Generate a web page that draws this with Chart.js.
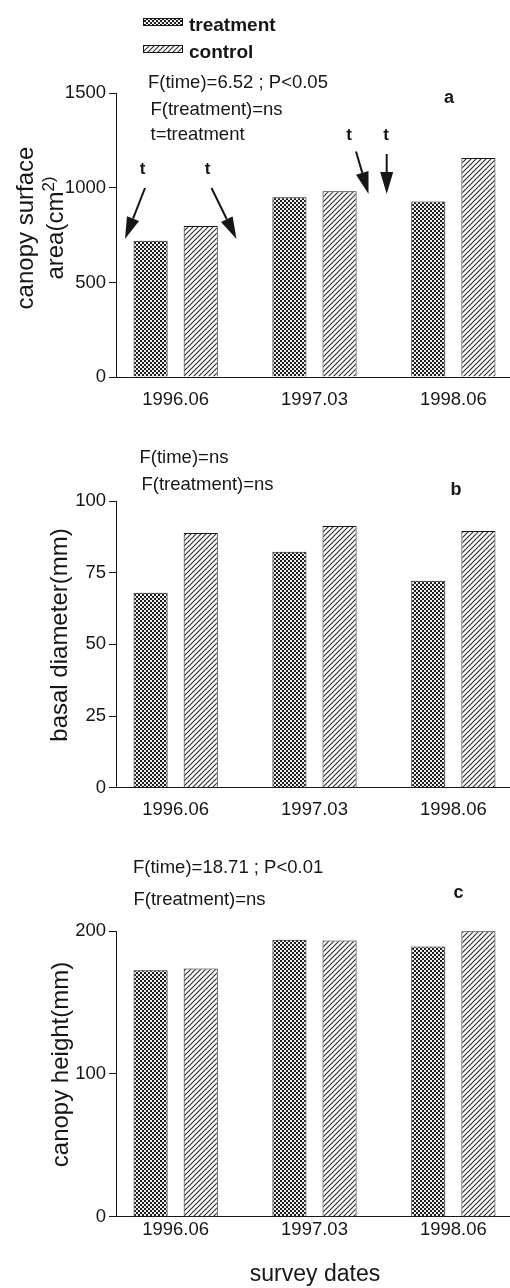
<!DOCTYPE html>
<html>
<head>
<meta charset="utf-8">
<script src="https://cdn.jsdelivr.net/npm/chart.js@4.4.1/dist/chart.umd.min.js"></script>
<style>
  html, body { margin: 0; padding: 0; background: #fff; width: 510px; height: 1288px; overflow: hidden; }
  .panel { position: absolute; left: 0; width: 510px; }
  canvas { display: block; }
</style>
</head>
<body>
<div class="panel" id="panelA" style="top:0;height:420px"><canvas id="chartA"></canvas></div>
<div class="panel" id="panelB" style="top:420px;height:420px"><canvas id="chartB"></canvas></div>
<div class="panel" id="panelC" style="top:840px;height:448px"><canvas id="chartC"></canvas></div>
<script>
// Survey dates shared by all three panels
const surveyDates = ['1996.06', '1997.03', '1998.06'];

// (a) canopy surface area, cm²
const areaTreatment = [721, 951, 928];
const areaControl   = [799, 982, 1158];
const areaTicks     = [0, 500, 1000, 1500];

// (b) basal diameter, mm
const diameterTreatment = [68.0, 82.3, 72.2];
const diameterControl   = [88.8, 91.3, 89.5];
const diameterTicks     = [0, 25, 50, 75, 100];

// (c) canopy height, mm
const heightTreatment = [172.5, 193.8, 189.1];
const heightControl   = [173.7, 193.3, 199.9];
const heightTicks     = [0, 100, 200];

const FONT = "'Liberation Sans', Arial, Helvetica, sans-serif";
const INK = '#161616';
Chart.defaults.font.family = FONT;
Chart.defaults.color = INK;

// Fill patterns: small checkerboard for treatment, diagonal hatching for control
function checkerPattern() {
  const c = document.createElement('canvas');
  c.width = 4; c.height = 4;
  const g = c.getContext('2d');
  g.fillStyle = '#eeeeee'; g.fillRect(0, 0, 4, 4);
  g.fillStyle = '#1e1e1e';
  g.fillRect(0, 0, 2, 2); g.fillRect(2, 2, 2, 2);
  return g.createPattern(c, 'repeat');
}
function hatchPattern() {
  const s = 5;
  const c = document.createElement('canvas');
  c.width = s; c.height = s;
  const g = c.getContext('2d');
  g.fillStyle = '#ffffff'; g.fillRect(0, 0, s, s);
  g.strokeStyle = '#2a2a2a'; g.lineWidth = 1.1;
  g.beginPath();
  g.moveTo(-1, s + 1); g.lineTo(s + 1, -1);
  g.moveTo(-1, 1); g.lineTo(1, -1);
  g.moveTo(s - 1, s + 1); g.lineTo(s + 1, s - 1);
  g.stroke();
  return g.createPattern(c, 'repeat');
}
const fills = { treatment: checkerPattern(), control: hatchPattern() };

// Draws the panel's annotations, legend, arrows and axis titles
const notesPlugin = {
  id: 'panelNotes',
  afterDraw(chart, args, opts) {
    const ctx = chart.ctx;
    const dy = opts.top || 0;
    ctx.save();
    for (const it of (opts.items || [])) {
      ctx.fillStyle = INK;
      ctx.strokeStyle = INK;
      if (it.type === 'text') {
        ctx.font = it.font;
        ctx.textAlign = it.align || 'left';
        ctx.textBaseline = 'alphabetic';
        ctx.fillText(it.text, it.x, it.y - dy);
      } else if (it.type === 'swatch') {
        ctx.fillStyle = fills[it.fill];
        ctx.fillRect(it.x, it.y - dy, it.w, it.h);
        ctx.lineWidth = 1;
        ctx.strokeRect(it.x + 0.5, it.y - dy + 0.5, it.w - 1, it.h - 1);
      } else if (it.type === 'arrow') {
        const x1 = it.x1, y1 = it.y1 - dy, x2 = it.x2, y2 = it.y2 - dy;
        const ang = Math.atan2(y2 - y1, x2 - x1);
        const hl = 22, hw = 6.5;
        const bx = x2 - hl * Math.cos(ang), by = y2 - hl * Math.sin(ang);
        ctx.lineWidth = 2;
        ctx.beginPath(); ctx.moveTo(x1, y1); ctx.lineTo(bx, by); ctx.stroke();
        ctx.beginPath();
        ctx.moveTo(x2, y2);
        ctx.lineTo(bx + hw * Math.sin(ang), by - hw * Math.cos(ang));
        ctx.lineTo(bx - hw * Math.sin(ang), by + hw * Math.cos(ang));
        ctx.closePath(); ctx.fill();
      } else if (it.type === 'vtext') {
        ctx.save();
        ctx.translate(it.x, it.y - dy);
        ctx.rotate(-Math.PI / 2);
        ctx.textBaseline = 'alphabetic';
        ctx.font = it.font;
        const w1 = ctx.measureText(it.text).width;
        let w2 = 0;
        if (it.sup) { ctx.font = it.supFont; w2 = ctx.measureText(it.sup).width; }
        const start = -(w1 + w2) / 2;
        ctx.textAlign = 'left';
        ctx.font = it.font;
        ctx.fillText(it.text, start, 0);
        if (it.sup) { ctx.font = it.supFont; ctx.fillText(it.sup, start + w1, -it.supRise); }
        ctx.restore();
      }
    }
    ctx.restore();
  }
};

// One bar panel: x is a linear index axis so the group spacing follows the drawn layout
function makePanel(id, cfg) {
  const toPoints = arr => arr.map((v, i) => ({ x: i, y: v }));
  const barStyle = { borderColor: INK, borderWidth: 1, barPercentage: 0.68, categoryPercentage: 0.722 };
  return new Chart(document.getElementById(id), {
    type: 'bar',
    data: {
      datasets: [
        Object.assign({ label: 'treatment', data: toPoints(cfg.treatment), backgroundColor: fills.treatment }, barStyle),
        Object.assign({ label: 'control', data: toPoints(cfg.control), backgroundColor: fills.control }, barStyle)
      ]
    },
    options: {
      responsive: true,
      maintainAspectRatio: false,
      animation: false,
      layout: { padding: { top: cfg.areaTop - cfg.top, left: 0, right: 0, bottom: 0 } },
      plugins: {
        legend: { display: false },
        tooltip: { enabled: false },
        panelNotes: { top: cfg.top, items: cfg.items }
      },
      scales: {
        x: {
          type: 'linear',
          offset: false,
          min: -0.4296,
          max: 2.408,
          afterBuildTicks: s => { s.ticks = surveyDates.map((d, i) => ({ value: i })); },
          afterFit: s => { s.height = cfg.top + cfg.height - cfg.areaBottom; },
          ticks: {
            callback: v => surveyDates[v],
            font: { size: 18.5 },
            color: INK,
            padding: cfg.xPad,
            maxRotation: 0,
            autoSkip: false
          },
          grid: { display: false, drawTicks: false, offset: false },
          border: { display: true, color: INK, width: 1 }
        },
        y: {
          min: cfg.yTicks[0],
          max: cfg.yTicks[cfg.yTicks.length - 1],
          afterBuildTicks: s => { s.ticks = cfg.yTicks.map(v => ({ value: v })); },
          afterFit: s => { s.width = 116; },
          ticks: { font: { size: 18.5 }, color: INK, padding: 3, callback: v => String(v) },
          grid: { drawOnChartArea: false, drawTicks: true, tickLength: 7, color: INK, lineWidth: 1 },
          border: { display: true, color: INK, width: 1 }
        }
      }
    },
    plugins: [notesPlugin]
  });
}

const noteFont = '18.5px ' + FONT;
const tagFont = 'bold 18px ' + FONT;
const titleFont = '24px ' + FONT;

makePanel('chartA', {
  top: 0, height: 420, areaTop: 93.3, areaBottom: 377, xPad: 12,
  treatment: areaTreatment, control: areaControl, yTicks: areaTicks,
  items: [
    { type: 'swatch', fill: 'treatment', x: 143, y: 18, w: 40, h: 8 },
    { type: 'text', text: 'treatment', x: 189, y: 31, font: 'bold 19px ' + FONT },
    { type: 'swatch', fill: 'control', x: 143, y: 45, w: 40, h: 8 },
    { type: 'text', text: 'control', x: 189, y: 58, font: 'bold 19px ' + FONT },
    { type: 'text', text: 'F(time)=6.52 ; P<0.05', x: 148, y: 87.5, font: noteFont },
    { type: 'text', text: 'F(treatment)=ns', x: 150.5, y: 114.5, font: noteFont },
    { type: 'text', text: 't=treatment', x: 150.5, y: 139.5, font: noteFont },
    { type: 'text', text: 'a', x: 449, y: 103, font: tagFont, align: 'center' },
    { type: 'text', text: 't', x: 142.5, y: 174, font: 'bold 17px ' + FONT, align: 'center' },
    { type: 'text', text: 't', x: 207.5, y: 174, font: 'bold 17px ' + FONT, align: 'center' },
    { type: 'text', text: 't', x: 349, y: 140, font: 'bold 17px ' + FONT, align: 'center' },
    { type: 'text', text: 't', x: 386, y: 140, font: 'bold 17px ' + FONT, align: 'center' },
    { type: 'arrow', x1: 145, y1: 188, x2: 125, y2: 239 },
    { type: 'arrow', x1: 211.5, y1: 188, x2: 236.5, y2: 239 },
    { type: 'arrow', x1: 356, y1: 151.5, x2: 368.5, y2: 194 },
    { type: 'arrow', x1: 386.7, y1: 154, x2: 386.7, y2: 194 },
    { type: 'vtext', text: 'canopy surface', x: 33, y: 228, font: titleFont },
    { type: 'vtext', text: 'area(cm', sup: '2)', x: 63, y: 228, font: titleFont, supFont: '17px ' + FONT, supRise: 9 }
  ]
});

makePanel('chartB', {
  top: 420, height: 420, areaTop: 501, areaBottom: 787.7, xPad: 11.5,
  treatment: diameterTreatment, control: diameterControl, yTicks: diameterTicks,
  items: [
    { type: 'text', text: 'F(time)=ns', x: 139.5, y: 462.5, font: noteFont },
    { type: 'text', text: 'F(treatment)=ns', x: 141.5, y: 489.5, font: noteFont },
    { type: 'text', text: 'b', x: 456, y: 494.5, font: tagFont, align: 'center' },
    { type: 'vtext', text: 'basal diameter(mm)', x: 67, y: 635, font: titleFont }
  ]
});

makePanel('chartC', {
  top: 840, height: 448, areaTop: 931, areaBottom: 1216.7, xPad: 2.5,
  treatment: heightTreatment, control: heightControl, yTicks: heightTicks,
  items: [
    { type: 'text', text: 'F(time)=18.71 ; P<0.01', x: 133, y: 873, font: noteFont },
    { type: 'text', text: 'F(treatment)=ns', x: 133.5, y: 904.5, font: noteFont },
    { type: 'text', text: 'c', x: 458.5, y: 898, font: tagFont, align: 'center' },
    { type: 'vtext', text: 'canopy height(mm)', x: 68, y: 1064.5, font: titleFont },
    { type: 'text', text: 'survey dates', x: 315, y: 1281, font: '23px ' + FONT, align: 'center' }
  ]
});
</script>
</body>
</html>
